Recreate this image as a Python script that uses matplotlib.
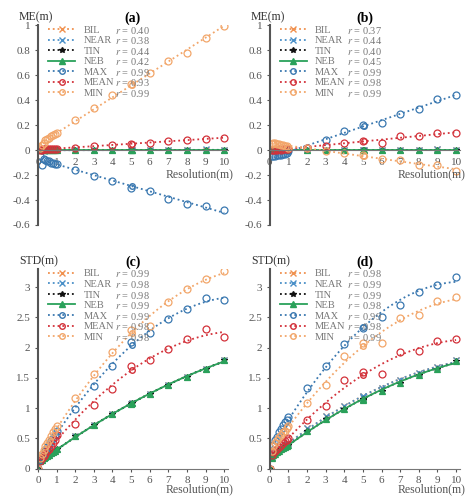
import numpy as np
import matplotlib
matplotlib.use("Agg")
import matplotlib.pyplot as plt
from matplotlib.transforms import offset_copy

plt.rcParams['font.family'] = ['Liberation Serif', 'DejaVu Serif']
plt.rcParams['mathtext.fontset'] = 'stix'

# resolution values (m)
x_fine = [0.1, 0.2, 0.3, 0.4, 0.5, 0.6, 0.7, 0.8, 0.9, 1.0]
x_coarse = [2, 3, 4, 5, 6, 7, 8, 9, 10]
x_me = x_fine + x_coarse
x_std = [0.0] + x_fine + x_coarse

methods = ['BIL', 'NEAR', 'TIN', 'NEB', 'MAX', 'MEAN', 'MIN']
colors = ['#f0914f', '#4a90c8', '#111111', '#2aa15a', '#3a78b0', '#d3323a', '#f2a66a']
markers = ['x', 'x', '*', '^', 'o', 'o', 'o']

# ME panel (a)
me_a = {
    'BIL':  [0.01, 0.0, 0.01, 0.0, 0.01, 0.0, 0.0, 0.0, 0.0, 0.0, 0, 0, 0, 0, 0, 0, 0, 0.003, 0],
    'NEAR': [-0.01, 0.0, -0.01, 0.0, 0.0, 0.0, 0.0, 0.0, 0.0, 0.0, 0, 0, 0, 0, 0, 0, 0, 0.005, 0],
    'TIN':  [0.0] * 19,
    'NEB':  [0.0] * 19,
    'MAX':  [-0.05, -0.12, -0.07, -0.08, -0.09, -0.09, -0.1, -0.1, -0.11, -0.11,
             -0.16, -0.21, -0.25, -0.30, -0.33, -0.39, -0.43, -0.45, -0.48],
    'MEAN': [0.0, 0.0, 0.01, 0.01, 0.01, 0.01, 0.01, 0.01, 0.01, 0.01,
             0.02, 0.03, 0.04, 0.05, 0.06, 0.07, 0.08, 0.09, 0.10],
    'MIN':  [0.02, 0.04, 0.06, 0.08, 0.09, 0.10, 0.11, 0.12, 0.13, 0.14,
             0.24, 0.34, 0.44, 0.53, 0.62, 0.71, 0.78, 0.90, 0.99],
}
r_a = [0.40, 0.38, 0.44, 0.42, 0.99, 0.93, 0.99]

# ME panel (b)
me_b = {
    'BIL':  [0.0] * 17 + [0.005, 0.0],
    'NEAR': [0.0] * 17 + [0.005, 0.0],
    'TIN':  [0.0] * 19,
    'NEB':  [0.0] * 19,
    'MAX':  [-0.05, -0.05, -0.05, -0.04, -0.04, -0.04, -0.03, -0.03, -0.02, -0.01,
             0.02, 0.08, 0.15, 0.20, 0.22, 0.29, 0.33, 0.41, 0.44],
    'MEAN': [0.0, 0.0, 0.0, 0.0, 0.01, 0.0, 0.01, 0.01, 0.01, 0.01,
             0.02, 0.03, 0.06, 0.07, 0.06, 0.11, 0.11, 0.14, 0.14],
    'MIN':  [0.05, 0.06, 0.06, 0.05, 0.05, 0.04, 0.04, 0.03, 0.03, 0.02,
             0.02, -0.01, -0.02, -0.04, -0.07, -0.08, -0.12, -0.12, -0.17],
}
r_b = [0.37, 0.44, 0.40, 0.45, 0.99, 0.98, 0.99]

# STD panel (c)
low_c = [0.0, 0.12, 0.15, 0.17, 0.19, 0.21, 0.23, 0.26, 0.28, 0.30, 0.32,
         0.54, 0.73, 0.91, 1.07, 1.23, 1.38, 1.51, 1.65, 1.80]
std_c = {
    'BIL': low_c, 'NEAR': low_c, 'TIN': low_c, 'NEB': low_c,
    'MAX':  [0.0, 0.15, 0.2, 0.26, 0.3, 0.36, 0.4, 0.45, 0.5, 0.56, 0.62,
             0.98, 1.36, 1.70, 2.10, 2.24, 2.47, 2.64, 2.82, 2.79],
    'MEAN': [0.0, 0.13, 0.17, 0.21, 0.25, 0.29, 0.33, 0.38, 0.42, 0.48, 0.55,
             0.74, 1.05, 1.32, 1.70, 1.79, 1.98, 2.15, 2.30, 2.17],
    'MIN':  [0.0, 0.18, 0.25, 0.31, 0.37, 0.43, 0.48, 0.54, 0.6, 0.65, 0.71,
             1.16, 1.57, 1.92, 2.29, 2.35, 2.75, 2.97, 3.13, 3.27],
}
r_c = [0.99, 0.98, 0.98, 0.99, 0.99, 0.98, 0.98]

# STD panel (d)
low_d = [0.0, 0.17, 0.22, 0.25, 0.28, 0.3, 0.32, 0.34, 0.36, 0.38, 0.4,
         0.62, 0.82, 0.98, 1.14, 1.29, 1.42, 1.55, 1.65, 1.78]
near_d = [0.0, 0.2, 0.25, 0.28, 0.31, 0.33, 0.35, 0.37, 0.39, 0.41, 0.43,
          0.68, 0.87, 1.03, 1.18, 1.33, 1.46, 1.58, 1.68, 1.80]
std_d = {
    'BIL': near_d, 'NEAR': near_d, 'TIN': low_d, 'NEB': low_d,
    'MAX':  [0.0, 0.3, 0.4, 0.47, 0.53, 0.6, 0.66, 0.72, 0.77, 0.8, 0.85,
             1.33, 1.70, 2.06, 2.32, 2.50, 2.71, 2.92, 3.03, 3.17],
    'MEAN': [0.0, 0.22, 0.27, 0.3, 0.33, 0.36, 0.39, 0.42, 0.45, 0.48, 0.5,
             0.80, 1.04, 1.46, 1.59, 1.56, 1.93, 1.94, 2.11, 2.14],
    'MIN':  [0.0, 0.3, 0.38, 0.43, 0.47, 0.52, 0.55, 0.6, 0.63, 0.67, 0.7,
             1.09, 1.38, 1.87, 2.07, 2.07, 2.49, 2.54, 2.77, 2.83],
}
r_d = [0.98, 0.99, 0.99, 0.98, 0.99, 0.98, 0.99]


def draw_panel(ax, x, data, rvals, deg, title, ylab, ylim, yticks, zero_axis):
    x = np.asarray(x)
    xs = np.linspace(0 if deg > 1 else 0.1, 10, 200)
    for name, c, m in zip(methods, colors, markers):
        y = np.asarray(data[name])
        coef = np.polyfit(x, y, deg)
        ls = '-' if name == 'NEB' else ':'
        mfc = c if m in ('^', '*') else 'none'
        ax.plot(x, y, linestyle='none', marker=m, ms=5 if m == 'o' else 4,
                mec=c, mfc=mfc, mew=0.9)
        ax.plot(xs, np.polyval(coef, xs), color=c, ls=ls, lw=1.3,
                marker=m, markevery=[100], ms=4, mec=c, mfc=mfc, label=name)
    ax.set_xlim(0, 10.2)
    ax.set_ylim(*ylim)
    ax.set_xticks(range(11))
    ax.set_yticks(yticks)
    ax.set_yticklabels([f"{t:g}" for t in yticks])
    for s in ['top', 'right']:
        ax.spines[s].set_visible(False)
    ax.spines['left'].set_color('#555555')
    ax.spines['left'].set_linewidth(1.5)
    ax.spines['bottom'].set_color('#777777')
    if zero_axis:
        ax.spines['bottom'].set_position(('data', 0))
    ax.tick_params(labelsize=8, colors='#555555', length=2)
    ax.set_title(title, fontsize=10, fontweight='bold', pad=2)
    ax.text(-0.1, 1.01, ylab, transform=ax.transAxes, fontsize=8.5,
            ha='left', va='bottom', color='#333333')
    if zero_axis:
        y0 = -ylim[0] / (ylim[1] - ylim[0])
        tr = offset_copy(ax.transAxes, fig=ax.figure, y=-13, units='points')
        ax.text(1.03, y0, 'Resolution(m)', transform=tr, ha='right', va='top',
                fontsize=8.5, color='#555555')
    else:
        ax.text(1.03, -0.075, 'Resolution(m)', transform=ax.transAxes,
                ha='right', va='top', fontsize=8.5, color='#555555')
    leg = ax.legend(loc='upper left', bbox_to_anchor=(0.02, 1.03), fontsize=7.5,
                    frameon=False, handlelength=2.6, labelspacing=0.12,
                    borderaxespad=0.2)
    for t in leg.get_texts():
        t.set_color('#777777')
    return leg, rvals


fig, axes = plt.subplots(2, 2, figsize=(4.74, 5.04), dpi=100)
me_ticks = [-0.6, -0.4, -0.2, 0, 0.2, 0.4, 0.6, 0.8, 1]
std_ticks = [0, 0.5, 1, 1.5, 2, 2.5, 3]
panels = [
    draw_panel(axes[0, 0], x_me, me_a, r_a, 1, '(a)', 'ME(m)', (-0.6, 1.0), me_ticks, True),
    draw_panel(axes[0, 1], x_me, me_b, r_b, 1, '(b)', 'ME(m)', (-0.6, 1.0), me_ticks, True),
    draw_panel(axes[1, 0], x_std, std_c, r_c, 2, '(c)', 'STD(m)', (0, 3.3), std_ticks, False),
    draw_panel(axes[1, 1], x_std, std_d, r_d, 2, '(d)', 'STD(m)', (0, 3.3), std_ticks, False),
]

fig.subplots_adjust(left=0.08, right=0.97, top=0.95, bottom=0.07, wspace=0.22, hspace=0.22)

# correlation values as an aligned second column of each legend
fig.canvas.draw()
inv = fig.transFigure.inverted()
for leg, rvals in panels:
    texts = leg.get_texts()
    x_col = max(t.get_window_extent().x0 for t in texts) + 32
    for t, r in zip(texts, rvals):
        bb = t.get_window_extent()
        fx, fy = inv.transform((x_col, (bb.y0 + bb.y1) / 2))
        fig.text(fx, fy, f"$r$ = {r:.2f}", fontsize=7.5, color='#777777',
                 ha='left', va='center')

fig.savefig('out.png', dpi=100)
